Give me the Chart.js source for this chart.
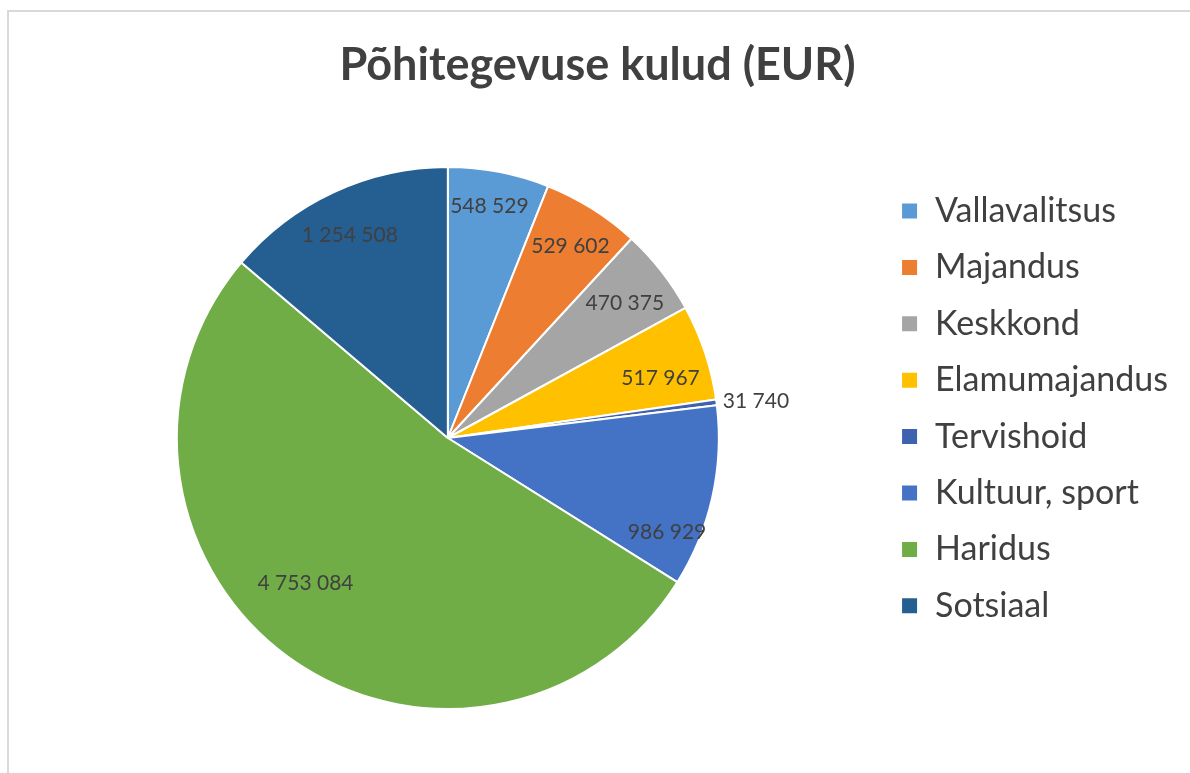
<!DOCTYPE html>
<html>
<head>
<meta charset="utf-8">
<script src="https://cdn.jsdelivr.net/npm/chart.js@4"></script>
<style>
  body { margin: 0; background: #fff; }
  #wrap { position: relative; width: 1190px; height: 773px; }
  #frame { position: absolute; left: 7px; top: 10px; right: -2px; bottom: -2px; border: 2px solid #d9d9d9; }
  canvas { position: absolute; left: 0; top: 0; }
</style>
</head>
<body>
<div id="wrap">
  <div id="frame"></div>
  <canvas id="myChart" width="1190" height="773"></canvas>
</div>
<script>
var categories = ['Vallavalitsus', 'Majandus', 'Keskkond', 'Elamumajandus', 'Tervishoid', 'Kultuur, sport', 'Haridus', 'Sotsiaal']
var values = [548529, 529602, 470375, 517967, 31740, 986929, 4753084, 1254508]
var colors = ['#5B9BD5', '#ED7D31', '#A5A5A5', '#FFC000', '#3E62B0', '#4472C4', '#70AD47', '#255E91']

// "1 254 508" style numbers
function fmt(v) {
    return String(v).replace(/\B(?=(\d{3})+(?!\d))/g, ' ')
}

// label placement tweaks per slice: [angle shift in degrees, radius fraction], null = outside
var labelTweak = [[-0.7, 0.87], [0.4, 0.84], [0.8, 0.82], [2.8, 0.815], null, [10.6, 0.88], [8.2, 0.75], [-1, 0.83]]

const sliceLabels = {
    id: 'sliceLabels',
    afterDatasetsDraw(chart) {
        const ctx = chart.ctx
        const arcs = chart.getDatasetMeta(0).data
        ctx.save()
        ctx.font = '21px Lato'
        ctx.fillStyle = '#404040'
        ctx.textBaseline = 'middle'
        arcs.forEach((arc, i) => {
            const p = arc.getProps(['x', 'y', 'startAngle', 'endAngle', 'outerRadius'], true)
            const mid = (p.startAngle + p.endAngle) / 2
            const t = labelTweak[i]
            if (t) {
                const a = mid + t[0] * Math.PI / 180
                const r = p.outerRadius * t[1]
                ctx.textAlign = 'center'
                ctx.fillText(fmt(values[i]), p.x + Math.cos(a) * r, p.y + Math.sin(a) * r)
            } else {
                const r = p.outerRadius + 6
                ctx.textAlign = 'left'
                ctx.fillText(fmt(values[i]), p.x + Math.cos(p.endAngle) * r, p.y + Math.sin(p.endAngle) * r - 3)
            }
        })
        ctx.restore()
    }
}

const ctx = document.getElementById('myChart')
const myChart = new Chart(ctx, {
    type: 'pie',
    data: {
        labels: categories,
        datasets: [{
            data: values,
            backgroundColor: colors,
            borderColor: '#ffffff',
            borderWidth: 2
        }]
    },
    options: {
        responsive: false,
        animation: false,
        layout: {
            padding: { left: 17, right: 12, top: 0, bottom: 63 }
        },
        plugins: {
            title: {
                display: true,
                text: 'Põhitegevuse kulud (EUR)',
                color: '#404040',
                font: { family: 'Lato', size: 45, weight: 'bold' },
                padding: { top: 38, bottom: 74 }
            },
            legend: {
                position: 'right',
                align: 'start',
                fullSize: false,
                title: {
                    display: true,
                    text: '',
                    font: { size: 2 },
                    padding: { top: 0, bottom: 3.2 }
                },
                labels: {
                    color: '#404040',
                    font: { family: 'Lato', size: 34 },
                    boxWidth: 17,
                    boxHeight: 17,
                    padding: 22.4
                }
            },
            tooltip: { enabled: false }
        }
    },
    plugins: [sliceLabels]
})
</script>
</body>
</html>
